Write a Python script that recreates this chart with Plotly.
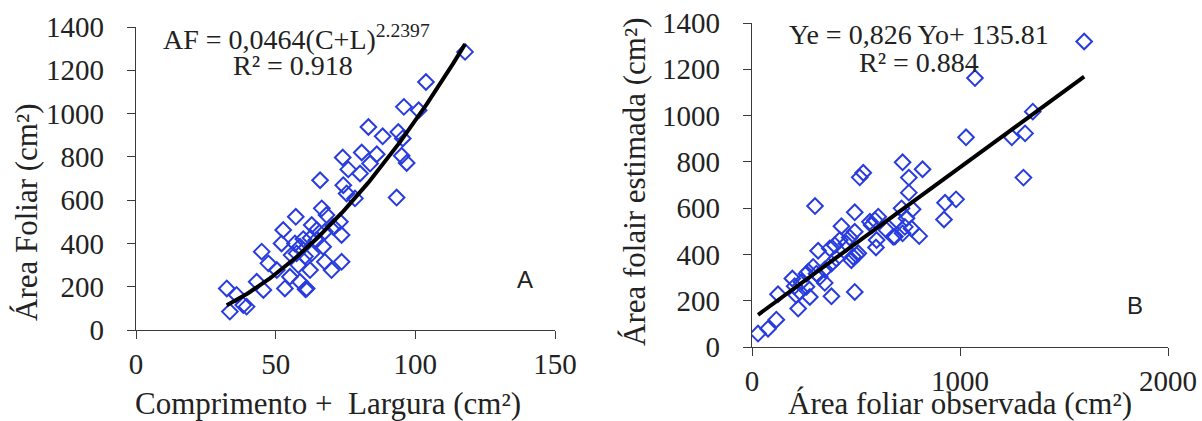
import numpy as np
import plotly.graph_objects as go

# ---------------- data ----------------
# Panel A: comprimento + largura (cm) vs area foliar (cm2)
cl_sum = [117.8, 103.8, 95.9, 101.2, 83.2, 88.3, 93.9, 95.5, 95.1, 96.9, 93.3, 80.8, 86.2,
          74.0, 83.8, 76.0, 80.2, 65.9, 74.2, 75.4, 78.4, 66.5, 57.2, 68.2, 62.9, 64.7,
          73.0, 52.7, 52.1, 67.6, 73.6, 67.0, 58.7, 55.7, 45.0, 47.4, 58.1, 62.3, 67.6,
          73.6, 70.0, 55.1, 58.7, 61.1, 53.3, 43.2, 45.6, 32.5, 36.0, 33.6, 39.6, 38.4,
          60.7, 57.5, 60.5, 62.9, 70.6, 62.5, 56.9, 64.5, 50.4, 59.9]
leaf_area = [1285, 1146, 1031, 1015, 938, 895, 915, 885, 805, 772, 612, 820, 812,
             797, 769, 742, 723, 692, 669, 631, 608, 562, 523, 531, 485, 462,
             500, 462, 400, 454, 439, 385, 385, 346, 362, 308, 300, 277, 315,
             315, 277, 246, 223, 192, 192, 223, 185, 192, 162, 85, 108, 115,
             188, 354, 340, 354, 477, 425, 400, 415, 277, 420]

# Panel B: observed vs estimated leaf area (cm2)
observed = [1597, 1072, 1350, 1313, 1249, 1029, 1305, 724, 820, 535, 518, 754, 754, 303,
            494, 719, 772, 928, 981, 923, 430, 591, 575, 695, 743, 647, 735, 767, 494,
            804, 679, 724, 599, 596, 422, 470, 454, 318, 374, 398, 486, 502, 478, 382,
            406, 350, 310, 350, 194, 262, 238, 205, 262, 230, 213, 278, 382, 494, 222,
            125, 117, 77, 29, 294, 326, 567, 607, 687, 511, 271]
estimated = [1320, 1162, 1017, 923, 906, 906, 732, 798, 768, 753, 733, 732, 667, 609,
             582, 599, 595, 623, 638, 551, 522, 548, 527, 548, 556, 505, 519, 512, 498,
             479, 476, 491, 462, 430, 462, 473, 447, 416, 426, 440, 390, 397, 375, 361,
             382, 335, 317, 277, 296, 317, 281, 263, 260, 238, 224, 216, 219, 238, 166,
             228, 118, 79, 58, 346, 303, 541, 563, 477, 405, 325]

eq_a = "AF = 0,0464(C+L)<sup>2.2397</sup>"
r2_a = "R² = 0.918"
eq_b = "Ye = 0,826 Yo+ 135.81"
r2_b = "R² = 0.884"

ticks_ay = [0, 200, 400, 600, 800, 1000, 1200, 1400]
ticks_ax = [0, 50, 100, 150]
ticks_by = [0, 200, 400, 600, 800, 1000, 1200, 1400]
ticks_bx = [0, 1000, 2000]

# ---------------- fits ----------------
xa = np.array(cl_sum, float)
ya = np.array(leaf_area, float)
b_pow, ln_a = np.polyfit(np.log(xa), np.log(ya), 1)
xa_fit = np.linspace(xa.min(), xa.max(), 200)
ya_fit = np.exp(ln_a) * xa_fit ** b_pow

xb = np.array(observed, float)
yb = np.array(estimated, float)
m_lin, c_lin = np.polyfit(xb, yb, 1)
xb_fit = np.array([xb.min(), xb.max()])
yb_fit = m_lin * xb_fit + c_lin

# ---------------- figure ----------------
W, H = 1202, 421
SERIF = "Liberation Serif"
SANS = "Liberation Sans"
BLUE = "rgb(40,60,222)"
AXC = "#3a3a3a"
TXT = "#222222"

fig = go.Figure()
mk = dict(symbol="diamond-open", size=12, color=BLUE, line=dict(width=2, color=BLUE))

fig.add_trace(go.Scatter(x=cl_sum, y=leaf_area, mode="markers", marker=mk,
                         xaxis="x", yaxis="y", showlegend=False))
fig.add_trace(go.Scatter(x=xa_fit, y=ya_fit, mode="lines",
                         line=dict(color="black", width=4),
                         xaxis="x", yaxis="y", showlegend=False))
fig.add_trace(go.Scatter(x=observed, y=estimated, mode="markers", marker=mk,
                         xaxis="x2", yaxis="y2", showlegend=False))
fig.add_trace(go.Scatter(x=xb_fit, y=yb_fit, mode="lines",
                         line=dict(color="black", width=4),
                         xaxis="x2", yaxis="y2", showlegend=False))


def px(x):
    return x / W


def py(y):
    return 1 - y / H


axis_common = dict(showline=True, linecolor=AXC, linewidth=1.3, ticks="outside",
                   ticklen=8, tickcolor=AXC, tickwidth=1.3, showgrid=False,
                   zeroline=False, automargin=False,
                   tickfont=dict(family=SERIF, size=29, color=TXT))

fig.update_layout(
    width=W, height=H,
    margin=dict(l=0, r=0, t=0, b=0, pad=0, autoexpand=False),
    font=dict(family=SERIF, color=TXT),
    paper_bgcolor="white", plot_bgcolor="white",
    xaxis=dict(domain=[px(136), px(555)], range=[0, 150], tickvals=ticks_ax,
               anchor="y", **axis_common),
    yaxis=dict(domain=[py(330), py(27)], range=[0, 1400], tickvals=ticks_ay,
               anchor="x", ticklabelstandoff=17, **axis_common),
    xaxis2=dict(domain=[px(752), px(1168)], range=[0, 2000], tickvals=ticks_bx,
                anchor="y2", **axis_common),
    yaxis2=dict(domain=[py(347), py(23)], range=[0, 1400], tickvals=ticks_by,
                anchor="x2", ticklabelstandoff=17, **axis_common),
)

ann = []
def add_text(text, x, y, size, angle=0, family=SERIF):
    ann.append(dict(text=text, x=px(x), y=py(y), xref="paper", yref="paper",
                    xanchor="center", yanchor="middle", showarrow=False,
                    textangle=angle, font=dict(family=family, size=size, color=TXT)))

add_text("Área Foliar (cm²)", 26, 212, 31, angle=-90)
add_text("Comprimento +  Largura (cm²)", 328, 403, 31)
add_text("Área folair estimada (cm²)", 634, 182, 31, angle=-90)
add_text("Área foliar observada (cm²)", 960, 403, 31)
add_text(eq_a, 296, 38, 28)
add_text(r2_a, 293, 66, 28)
add_text(eq_b, 919, 34, 28)
add_text(r2_b, 919, 62, 28)
add_text("A", 525, 279, 24, family=SANS)
add_text("B", 1135, 305, 24, family=SANS)
fig.update_layout(annotations=ann)

fig.write_html(
    "out.html",
    config={"displayModeBar": False},
    post_script="document.body.style.margin='0';document.body.style.overflow='hidden';",
)
